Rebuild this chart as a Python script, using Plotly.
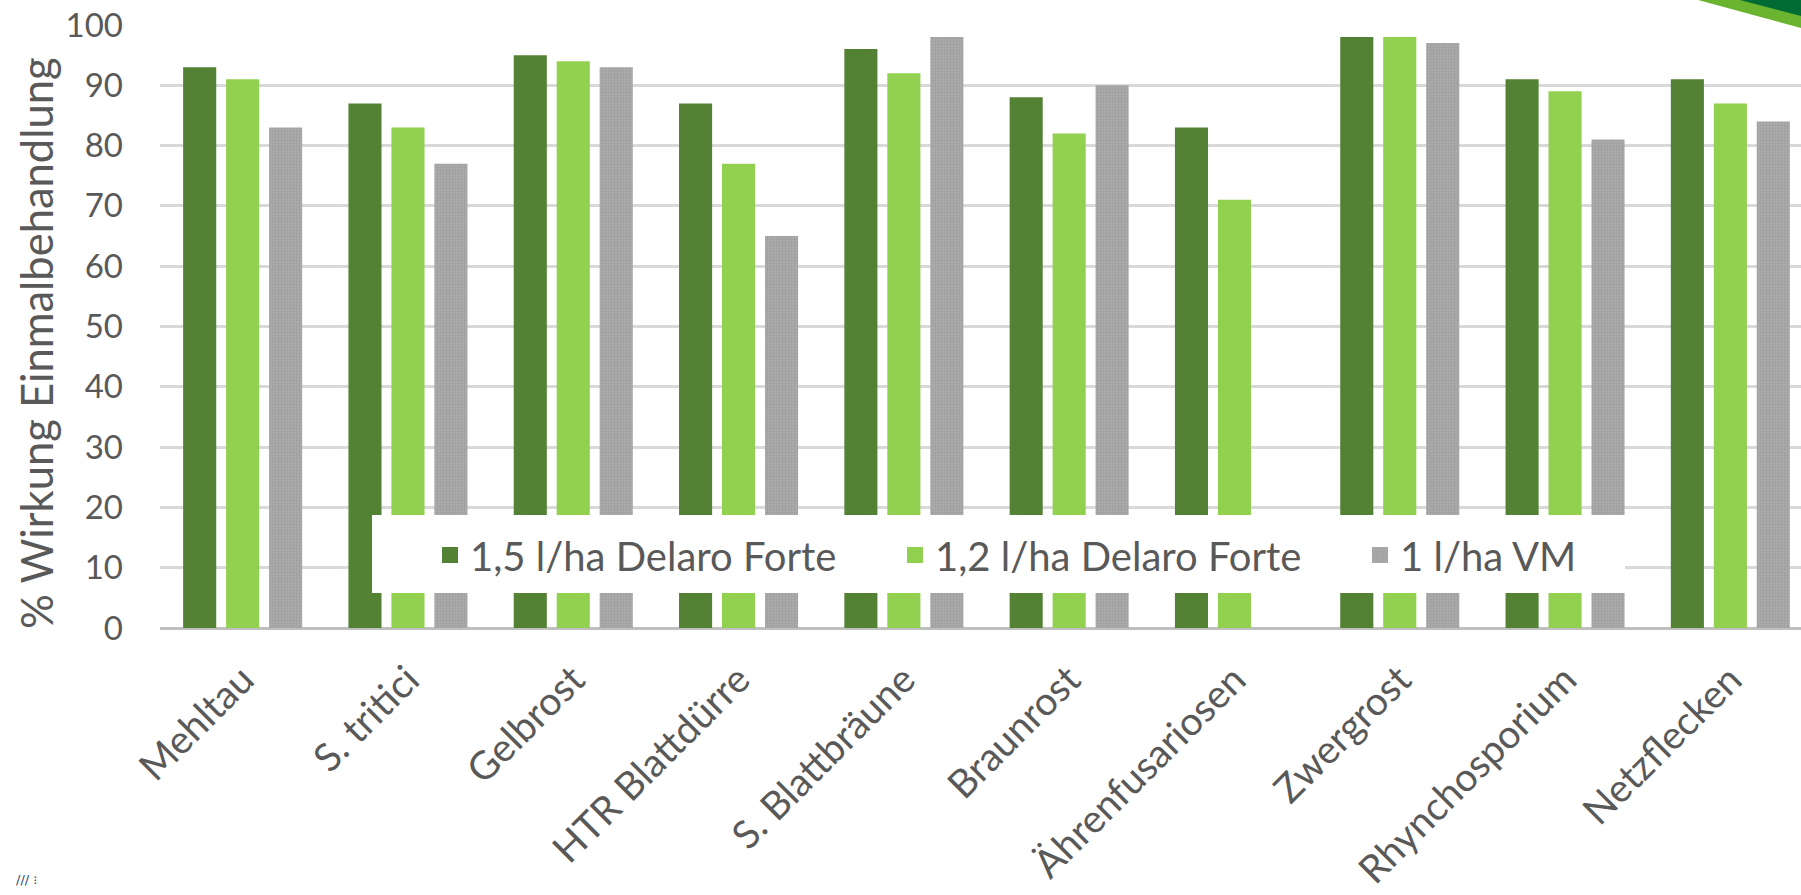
import plotly.graph_objects as go

categories = ["Mehltau", "S. tritici", "Gelbrost", "HTR Blattdürre", "S. Blattbräune",
              "Braunrost", "Ährenfusariosen", "Zwergrost", "Rhynchosporium", "Netzflecken"]
series_names = ["1,5 l/ha Delaro Forte", "1,2 l/ha Delaro Forte", "1 l/ha VM"]
delaro_15 = [93, 87, 95, 87, 96, 88, 83, 98, 91, 91]
delaro_12 = [91, 83, 94, 77, 92, 82, 71, 98, 89, 87]
vm_10 = [83, 77, 93, 65, 98, 90, None, 97, 81, 84]
y_ticks = [0, 10, 20, 30, 40, 50, 60, 70, 80, 90, 100]
y_title = "% Wirkung Einmalbehandlung"

W, H = 1801, 895
L, R, T, B = 160, 0, 25, 267
PW = W - L - R
PH = H - T - B

def px(xp):
    return (xp - L) / PW

def py(yp):
    return (H - B - yp) / PH

FONT = "Lato, 'Open Sans', sans-serif"
TXT = "#595959"
colors = ["#548235", "#92D050", "#A6A6A6"]
pattern = dict(shape=".", size=3, solidity=0.45, fgcolor="#8E8E8E", bgcolor="#ADADAD")

fig = go.Figure()
values = [delaro_15, delaro_12, vm_10]
for name, vals, col in zip(series_names, values, colors):
    marker = dict(color=col, line=dict(width=0))
    if col == "#A6A6A6":
        marker["pattern"] = pattern
    fig.add_trace(go.Bar(x=categories, y=vals, name=name, marker=marker, showlegend=False))

# legend-only entries (bigger symbols) on hidden overlay axes
for name, col in zip(series_names, colors):
    marker = dict(color=col, line=dict(width=4, color=col))
    if col == "#A6A6A6":
        marker["pattern"] = pattern
        marker["line"] = dict(width=4, color="#A6A6A6")
    fig.add_trace(go.Bar(x=[None], y=[None], name=name, marker=marker,
                         xaxis="x2", yaxis="y2", showlegend=True))

shapes = [
    # legend background box
    dict(type="rect", xref="paper", yref="paper", x0=px(372), x1=px(1625), y0=py(593), y1=py(515),
         fillcolor="white", line=dict(width=0), layer="above"),
    # white area hiding the top gridline at the right
    dict(type="rect", xref="paper", yref="paper", x0=px(1606), x1=1.01, y0=py(31), y1=py(19),
         fillcolor="white", line=dict(width=0), layer="above"),
    # decoration top right
    dict(type="path", xref="paper", yref="paper",
         path=f"M {px(1698)} {py(0)} L {px(1801)} {py(0)} L {px(1801)} {py(28)} Z",
         fillcolor="#6AB42F", line=dict(width=0), layer="above"),
    dict(type="path", xref="paper", yref="paper",
         path=f"M {px(1740)} {py(0)} L {px(1801)} {py(0)} L {px(1801)} {py(16)} Z",
         fillcolor="#006B33", line=dict(width=0), layer="above"),
]

annotations = [
    dict(text=y_title, xref="paper", yref="paper", x=px(36), y=py(343), showarrow=False,
         textangle=-90, font=dict(family=FONT, size=43.5, color=TXT), xanchor="center", yanchor="middle"),
    dict(text="/// ⁝", xref="paper", yref="paper", x=px(14), y=py(880), showarrow=False,
         xanchor="left", yanchor="middle", font=dict(family="DejaVu Sans", size=13, color="#2E4A66")),
]

fig.update_layout(
    width=W, height=H,
    margin=dict(l=L, r=R, t=T, b=B, autoexpand=False),
    paper_bgcolor="white", plot_bgcolor="white",
    barmode="group", bargap=0.22, bargroupgap=0.23,
    font=dict(family=FONT, color=TXT),
    xaxis=dict(range=[-0.5, -0.5 + PW / 165.3], showgrid=False, zeroline=False, showline=False,
               tickangle=-45, tickfont=dict(family=FONT, size=39, color=TXT),
               ticks="", ticklabelstandoff=20, fixedrange=True),
    yaxis=dict(range=[0, 100], tickvals=y_ticks, showgrid=True, gridcolor="#D9D9D9", gridwidth=2.5,
               zeroline=True, zerolinecolor="#BFBFBF", zerolinewidth=2.5, showline=False,
               tickfont=dict(family=FONT, size=33, color=TXT), ticks="", ticklabelstandoff=36,
               fixedrange=True),
    xaxis2=dict(overlaying="x", visible=False, range=[0, 1]),
    yaxis2=dict(overlaying="y", visible=False, range=[0, 1]),
    legend=dict(orientation="h", x=px(430), y=py(555), xanchor="left", yanchor="middle",
                bgcolor="rgba(0,0,0,0)", borderwidth=0, entrywidth=420, entrywidthmode="pixels",
                font=dict(family=FONT, size=40, color=TXT), itemclick=False),
    shapes=shapes, annotations=annotations,
)

fig.write_html("out.html", config={"displayModeBar": False},
               post_script="document.body.style.margin='0px';document.body.style.overflow='hidden';")
